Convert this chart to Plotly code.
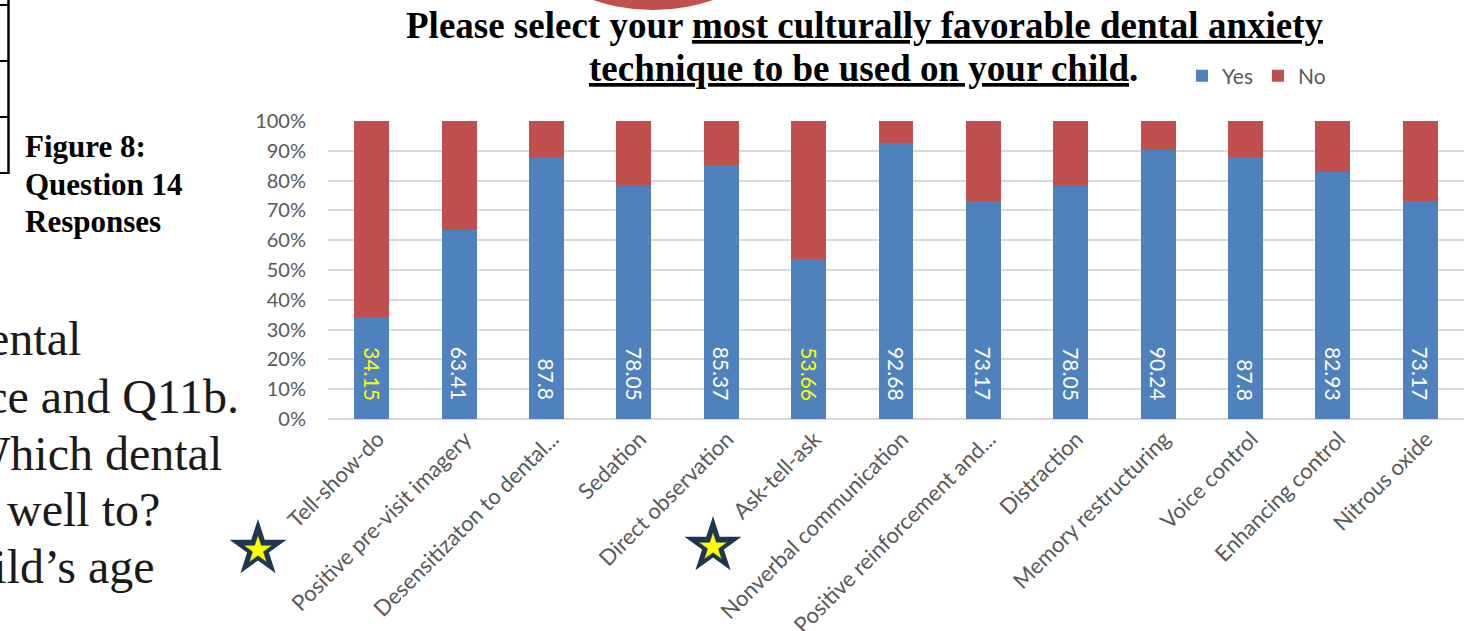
import math
import plotly.graph_objects as go

# ---------------- data ----------------
categories = [
    "Tell-show-do", "Positive pre-visit imagery", "Desensitizaton to dental...",
    "Sedation", "Direct observation", "Ask-tell-ask", "Nonverbal communication",
    "Positive reinforcement and...", "Distraction", "Memory restructuring",
    "Voice control", "Enhancing control", "Nitrous oxide",
]
yes_values = [34.15, 63.41, 87.8, 78.05, 85.37, 53.66, 92.68, 73.17, 78.05, 90.24, 87.8, 82.93, 73.17]
no_values = [65.85, 36.59, 12.2, 21.95, 14.63, 46.34, 7.32, 26.83, 21.95, 9.76, 12.2, 17.07, 26.83]
highlighted = ["Tell-show-do", "Ask-tell-ask"]
y_ticks = [0, 10, 20, 30, 40, 50, 60, 70, 80, 90, 100]
y_tick_labels = ["0%", "10%", "20%", "30%", "40%", "50%", "60%", "70%", "80%", "90%", "100%"]

title_lines = ["Please select your <u>most culturally favorable dental anxiety</u>",
               "<u>technique to be used on your child</u>."]
caption_lines = ["Figure 8:", "Question 14", "Responses"]
side_lines = ["dental", "experience and Q11b.", "Which dental", "well to?", "child\u2019s age"]

# ---------------- layout geometry (pixels) ----------------
W, H = 1478, 631
ML, MR, MT, MB = 328, 14, 121, 212
PW = W - ML - MR
PH = H - MT - MB


def px(x):
    return (x - ML) / PW


def py(y):
    return (H - MB - y) / PH


BLUE = "#4F81BD"
RED = "#C0504D"
GRAY = "#595959"
SANS = "Lato, Calibri, Carlito, sans-serif"
SERIF = "Liberation Serif, Times New Roman, serif"

fig = go.Figure()
fig.add_trace(go.Bar(x=categories, y=yes_values, name="Yes", marker=dict(color=BLUE, line=dict(width=0))))
fig.add_trace(go.Bar(x=categories, y=no_values, name="No", marker=dict(color=RED, line=dict(width=0))))

annotations = []
for c, v in zip(categories, yes_values):
    annotations.append(dict(
        x=c, y=5.4, xref="x", yref="y", text=f"{v:g}", showarrow=False,
        textangle=90, yanchor="bottom", xanchor="center",
        font=dict(family=SANS, size=21, color="#FFFF00" if c in highlighted else "white"),
    ))

for t, cxp, cyp in zip(title_lines, [864, 863], [25, 68]):
    annotations.append(dict(
        x=px(cxp), y=py(cyp), xref="paper", yref="paper", xanchor="center", yanchor="middle",
        text="<b>" + t + "</b>", showarrow=False, align="center",
        font=dict(family=SERIF, size=37, color="black"),
    ))
for t, cyp in zip(caption_lines, [146, 184, 221]):
    annotations.append(dict(
        x=px(23), y=py(cyp), xref="paper", yref="paper", xanchor="left", yanchor="middle",
        text="<b>" + t + "</b>", showarrow=False, align="left",
        font=dict(family=SERIF, size=31, color="black"),
    ))
right_edges = [83, 241, 224, 162, 157]
baselines = [354, 412, 469, 525, 582]
for t, rx, bl in zip(side_lines, right_edges, baselines):
    annotations.append(dict(
        x=px(rx), y=py(bl - 16), xref="paper", yref="paper", xanchor="right", yanchor="middle",
        text=t, showarrow=False, font=dict(family=SERIF, size=48, color="#1a1a1a"),
    ))

shapes = []
# red circle partially visible at top
cx, r = 653, 185
shapes.append(dict(type="circle", xref="paper", yref="paper",
                   x0=px(cx - r), x1=px(cx + r), y0=py(10), y1=py(10 - 2 * r),
                   fillcolor=RED, line=dict(width=0), layer="below"))
# table border fragments at top-left
shapes.append(dict(type="line", xref="paper", yref="paper", x0=px(8.5), x1=px(8.5), y0=py(0), y1=py(174),
                   line=dict(color="black", width=2.5)))
for yy in [5, 61, 117, 173]:
    shapes.append(dict(type="line", xref="paper", yref="paper", x0=px(0), x1=px(8.5), y0=py(yy), y1=py(yy),
                       line=dict(color="black", width=2)))


def star_path(cxp, cyp, R):
    pts = []
    for k in range(10):
        ang = math.radians(-90 + 36 * k)
        rr = R if k % 2 == 0 else R * 0.382
        pts.append((px(cxp + rr * math.cos(ang)), py(cyp + rr * math.sin(ang))))
    return "M " + " L ".join(f"{a:.5f},{b:.5f}" for a, b in pts) + " Z"


for scx, scy in [(258, 549), (713, 546)]:
    shapes.append(dict(type="path", xref="paper", yref="paper", path=star_path(scx, scy, 30),
                       fillcolor="#1F3552", line=dict(width=0)))
    shapes.append(dict(type="path", xref="paper", yref="paper", path=star_path(scx, scy + 1, 15),
                       fillcolor="#FFFF00", line=dict(color="#1F3552", width=0.5)))

fig.update_layout(
    width=W, height=H,
    margin=dict(l=ML, r=MR, t=MT, b=MB, autoexpand=False),
    barmode="stack", bargap=0.6,
    plot_bgcolor="white", paper_bgcolor="white",
    showlegend=True,
    legend=dict(orientation="h", x=px(1182), y=py(76), xanchor="left", yanchor="middle",
                font=dict(family=SANS, size=21, color=GRAY), traceorder="normal",
                bgcolor="rgba(0,0,0,0)", itemwidth=30),
    annotations=annotations,
    shapes=shapes,
    xaxis=dict(tickangle=-45, tickfont=dict(family=SANS, size=22, color=GRAY),
               showline=False, showgrid=False, ticks="", ticklabelstandoff=2,
               ticklabelshift=6, automargin=False),
    yaxis=dict(range=[0, 100], tickvals=y_ticks, ticktext=y_tick_labels,
               tickfont=dict(family=SANS, size=20, color=GRAY),
               showgrid=True, gridcolor="#D9D9D9", gridwidth=1.5, zeroline=True,
               zerolinecolor="#D9D9D9", zerolinewidth=1.5, showline=False, ticks="",
               ticklabelstandoff=21, automargin=False),
)

fig.write_html("out.html")
